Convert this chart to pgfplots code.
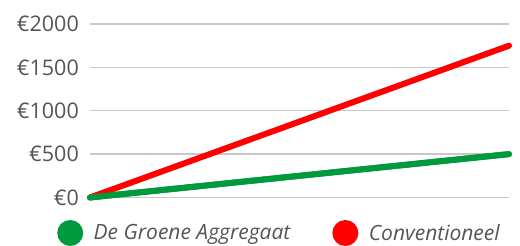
\documentclass[border=0pt]{standalone}
\usepackage{pgfplots}
\pgfplotsset{compat=1.18}
\usepackage{fontspec}
\setmainfont{Open Sans}
\definecolor{mygreen}{RGB}{0,154,61}
\definecolor{myred}{RGB}{255,0,0}
\definecolor{txt}{RGB}{85,85,85}
\definecolor{gridc}{RGB}{200,200,200}
\begin{document}
\begin{tikzpicture}
\useasboundingbox (0,0) rectangle (520bp,246bp);
\begin{axis}[
  at={(90bp,48.5bp)}, anchor=south west,
  scale only axis, width=419bp, height=173.5bp,
  xmin=0, xmax=1, ymin=0, ymax=2000,
  axis line style={draw=none},
  xtick=\empty,
  ytick={0,500,1000,1500,2000},
  ymajorgrids,
  major grid style={draw=gridc, line width=1.3bp},
  major tick length=0pt,
  /pgf/number format/.cd, 1000 sep={}, assume math mode=true,
  /pgfplots/.cd,
  yticklabel={€\pgfmathprintnumber{\tick}},
  yticklabel style={anchor=east, inner sep=0pt, xshift=-11bp, text=txt, font=\fontsize{21.5bp}{24bp}\selectfont},
  clip=false,
  legend columns=2,
  legend style={at={(rel axis cs:0,0)}, anchor=west, xshift=-33bp, yshift=-35.5bp,
    draw=none, fill=none, inner sep=0pt,
    font=\itshape\fontsize{21bp}{24bp}\selectfont, text=txt,
    /tikz/every even column/.append style={column sep=40bp}},
  legend image code/.code={\fill[#1, draw=none] (13bp,0bp) circle (13bp); \path (31.5bp,0bp);},
]
\addplot[mygreen, line width=6bp, line cap=round] coordinates {(0,0) (1,500)};
\addlegendentry{De Groene Aggregaat}
\addplot[myred, line width=6bp, line cap=round] coordinates {(0,0) (1,1750)};
\addlegendentry{Conventioneel}
\addplot[mygreen, line width=6bp, line cap=round, forget plot] coordinates {(0,0) (1,500)};
\end{axis}
\end{tikzpicture}
\end{document}
